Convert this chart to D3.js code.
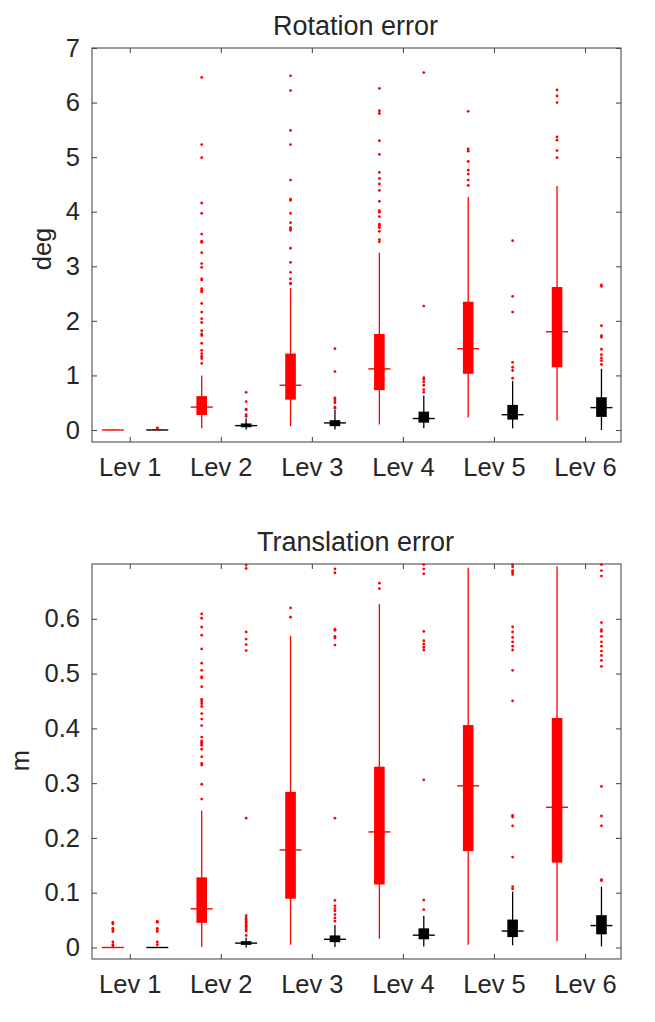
<!DOCTYPE html>
<html>
<head>
<meta charset="utf-8">
<script src="https://cdn.jsdelivr.net/npm/d3@7"></script>
<style>
  html, body { margin: 0; padding: 0; background: #ffffff; }
  svg { display: block; }
  text { font-family: "Liberation Sans", Arial, Helvetica, sans-serif; fill: #262626; }
</style>
</head>
<body>
<svg id="chart" width="655" height="1022"></svg>
<script>
// ---------- data ----------
const levels = ["Lev 1", "Lev 2", "Lev 3", "Lev 4", "Lev 5", "Lev 6"];
const levelTickPositions = [1.38, 3.43, 5.48, 7.53, 9.58, 11.63];

const rotTicks = [0, 1, 2, 3, 4, 5, 6, 7];
const transTicks = [0, 0.1, 0.2, 0.3, 0.4, 0.5, 0.6];

// Rotation error (deg) — series A (red)
const rotA_lo  = [0, 0.03, 0.07, 0.10, 0.23, 0.17];
const rotA_q1  = [0, 0.275, 0.556, 0.73, 1.03, 1.15];
const rotA_med = [0, 0.42, 0.82, 1.12, 1.49, 1.80];
const rotA_q3  = [0.005, 0.62, 1.40, 1.76, 2.35, 2.62];
const rotA_hi  = [0.01, 1.00, 2.60, 3.25, 4.27, 4.47];
const rotA_out = [
  [],
  [6.46, 5.23, 4.99, 4.16, 3.97, 3.59, 3.46, 3.44, 3.25, 3.05, 2.98, 2.77, 2.75, 2.59, 2.56, 2.53, 2.32, 2.16, 2.04, 1.97, 1.82, 1.76, 1.73, 1.59, 1.46, 1.40, 1.35, 1.31, 1.22],
  [6.49, 6.22, 5.49, 5.23, 4.58, 4.23, 4.21, 3.97, 3.80, 3.71, 3.69, 3.66, 3.33, 3.07, 2.89, 2.77, 2.69, 2.68],
  [6.26, 5.85, 5.80, 5.30, 5.05, 4.72, 4.61, 4.51, 4.39, 4.19, 4.02, 3.99, 3.91, 3.77, 3.74, 3.71, 3.64, 3.49, 3.45],
  [5.84, 5.15, 5.11, 4.92, 4.76, 4.69, 4.58, 4.48],
  [6.23, 6.12, 6.00, 5.37, 5.31, 5.12, 4.99]
];
// Rotation error (deg) — series B (black)
const rotB_lo  = [0, 0.01, 0.01, 0.03, 0.03, 0.0];
const rotB_q1  = [0, 0.05, 0.07, 0.135, 0.19, 0.24];
const rotB_med = [0, 0.08, 0.13, 0.21, 0.28, 0.41];
const rotB_q3  = [0.005, 0.12, 0.18, 0.336, 0.46, 0.60];
const rotB_hi  = [0.01, 0.21, 0.37, 0.63, 0.90, 1.12];
const rotB_out = [
  [0.02, 0.03, 0.04],
  [0.69, 0.52, 0.38, 0.37, 0.28, 0.25],
  [1.49, 1.07, 0.59, 0.57, 0.53, 0.50, 0.42, 0.40],
  [6.55, 2.27, 0.96, 0.93, 0.88, 0.82, 0.74, 0.69],
  [3.47, 2.45, 2.16, 1.24, 1.15, 1.09, 0.95],
  [2.66, 2.63, 1.91, 1.73, 1.70, 1.48, 1.38, 1.32, 1.27, 1.20]
];

// Translation error (m) — series A (red)
const trA_lo  = [0, 0.001, 0.005, 0.016, 0.005, 0.0115];
const trA_q1  = [0, 0.045, 0.089, 0.115, 0.176, 0.155];
const trA_med = [0, 0.0706, 0.178, 0.211, 0.295, 0.256];
const trA_q3  = [0.0005, 0.128, 0.284, 0.330, 0.406, 0.419];
const trA_hi  = [0.001, 0.25, 0.569, 0.627, 0.693, 0.696];
const trA_out = [
  [0.046, 0.043, 0.035, 0.032, 0.029, 0.010, 0.005, 0.003],
  [0.609, 0.601, 0.585, 0.570, 0.545, 0.519, 0.506, 0.494, 0.492, 0.476, 0.453, 0.449, 0.445, 0.440, 0.427, 0.417, 0.405, 0.384, 0.377, 0.374, 0.372, 0.369, 0.362, 0.348, 0.336, 0.333, 0.298, 0.271],
  [0.620, 0.603],
  [0.665, 0.655],
  [],
  []
];
// Translation error (m) — series B (black)
const trB_lo  = [0, 0, 0.001, 0.002, 0.004, 0.002];
const trB_q1  = [0, 0.0048, 0.0097, 0.015, 0.019, 0.024];
const trB_med = [0, 0.008, 0.015, 0.0225, 0.030, 0.040];
const trB_q3  = [0.0005, 0.0116, 0.022, 0.035, 0.051, 0.059];
const trB_hi  = [0.001, 0.018, 0.041, 0.058, 0.102, 0.111];
const trB_out = [
  [0.048, 0.046, 0.035, 0.032, 0.029, 0.010, 0.005],
  [0.698, 0.692, 0.576, 0.563, 0.553, 0.542, 0.236, 0.058, 0.054, 0.051, 0.048, 0.045, 0.042, 0.039, 0.036, 0.033, 0.030, 0.022],
  [0.691, 0.684, 0.581, 0.579, 0.568, 0.565, 0.552, 0.236, 0.086, 0.076, 0.071, 0.067, 0.060, 0.054, 0.048],
  [0.699, 0.691, 0.682, 0.577, 0.560, 0.554, 0.548, 0.543, 0.306, 0.0865, 0.069],
  [0.699, 0.695, 0.688, 0.685, 0.681, 0.585, 0.576, 0.566, 0.558, 0.550, 0.543, 0.506, 0.450, 0.241, 0.238, 0.222, 0.165, 0.111, 0.107],
  [0.699, 0.688, 0.678, 0.593, 0.580, 0.577, 0.568, 0.558, 0.550, 0.541, 0.533, 0.524, 0.513, 0.294, 0.240, 0.222, 0.124, 0.122]
];

// ---------- drawing ----------
const svg = d3.select("#chart");
const AXIS_COLOR = "#4d4d4d";
const TEXT_COLOR = "#262626";
const FONT = 25.5;

function buildBoxes(lo, q1, med, q3, hi, out, seriesIndex, color) {
  return levels.map((lev, i) => ({
    pos: 2 * i + 1 + seriesIndex,
    lo: lo[i], q1: q1[i], med: med[i], q3: q3[i], hi: hi[i], out: out[i], color
  }));
}

function drawPanel(cfg) {
  const g = svg.append("g");
  const x = d3.scaleLinear().domain([0.53, 12.44]).range([cfg.left, cfg.right]);
  const y = d3.scaleLinear().domain(cfg.yDomain).range([cfg.bottom, cfg.top]);

  // frame
  g.append("rect")
    .attr("x", cfg.left).attr("y", cfg.top)
    .attr("width", cfg.right - cfg.left).attr("height", cfg.bottom - cfg.top)
    .attr("fill", "none").attr("stroke", AXIS_COLOR).attr("stroke-width", 1.1);

  const tickLen = 5;
  const yAxisL = d3.axisLeft(y).tickValues(cfg.yTicks).tickSize(-tickLen).tickPadding(12)
    .tickFormat(cfg.yFormat);
  const gyl = g.append("g").attr("transform", `translate(${cfg.left},0)`).call(yAxisL);
  const yAxisR = d3.axisRight(y).tickValues(cfg.yTicks).tickSize(-tickLen).tickFormat("");
  const gyr = g.append("g").attr("transform", `translate(${cfg.right},0)`).call(yAxisR);
  const xAxisB = d3.axisBottom(x).tickValues(levelTickPositions).tickSize(-tickLen).tickPadding(16)
    .tickFormat((d, i) => levels[i]);
  const gxb = g.append("g").attr("transform", `translate(0,${cfg.bottom})`).call(xAxisB);
  const xAxisT = d3.axisTop(x).tickValues(levelTickPositions).tickSize(-tickLen).tickFormat("");
  const gxt = g.append("g").attr("transform", `translate(0,${cfg.top})`).call(xAxisT);

  [gyl, gyr, gxb, gxt].forEach(a => {
    a.select(".domain").remove();
    a.selectAll(".tick line").attr("stroke", AXIS_COLOR).attr("stroke-width", 1.1);
    a.selectAll(".tick text").attr("fill", TEXT_COLOR)
      .style("font-family", '"Liberation Sans", Arial, Helvetica, sans-serif')
      .style("font-size", FONT + "px");
  });
  gxb.selectAll(".tick text").attr("dy", "0.71em");

  // title
  g.append("text")
    .attr("x", (cfg.left + cfg.right) / 2 - 1)
    .attr("y", cfg.top - 13)
    .attr("text-anchor", "middle")
    .style("font-size", "27px")
    .text(cfg.title);

  // y label
  g.append("text")
    .attr("transform", `translate(${cfg.yLabelX},${(cfg.top + cfg.bottom) / 2 + cfg.yLabelDy}) rotate(-90)`)
    .attr("text-anchor", "middle")
    .style("font-size", "25.5px")
    .text(cfg.yLabel);

  const boxes = cfg.boxes;
  const bg = g.append("g");
  boxes.forEach(b => {
    const cx = x(b.pos);
    bg.append("line")
      .attr("x1", cx).attr("x2", cx)
      .attr("y1", y(b.lo)).attr("y2", y(b.hi))
      .attr("stroke", b.color).attr("stroke-width", 1.3);
    const yTop = y(b.q3), yBot = y(b.q1);
    bg.append("rect")
      .attr("x", cx - 5.3).attr("width", 10.6)
      .attr("y", yTop).attr("height", Math.max(0.01, yBot - yTop))
      .attr("fill", b.color);
    bg.append("line")
      .attr("x1", cx - 11).attr("x2", cx + 11)
      .attr("y1", y(b.med)).attr("y2", y(b.med))
      .attr("stroke", b.color).attr("stroke-width", 1.4);
    bg.selectAll(null).data(b.out).enter().append("circle")
      .attr("cx", cx).attr("cy", d => y(d)).attr("r", 1.4)
      .attr("fill", "#ff0000");
  });
}

const rotBoxes = buildBoxes(rotA_lo, rotA_q1, rotA_med, rotA_q3, rotA_hi, rotA_out, 0, "#ff0000")
  .concat(buildBoxes(rotB_lo, rotB_q1, rotB_med, rotB_q3, rotB_hi, rotB_out, 1, "#000000"));
const trBoxes = buildBoxes(trA_lo, trA_q1, trA_med, trA_q3, trA_hi, trA_out, 0, "#ff0000")
  .concat(buildBoxes(trB_lo, trB_q1, trB_med, trB_q3, trB_hi, trB_out, 1, "#000000"));

drawPanel({
  left: 92, right: 621, top: 48, bottom: 442,
  yDomain: [-0.22, 7], yTicks: rotTicks, yFormat: d3.format("d"),
  title: "Rotation error", yLabel: "deg", yLabelX: 51, yLabelDy: 4,
  boxes: rotBoxes
});
drawPanel({
  left: 92, right: 621, top: 564, bottom: 959,
  yDomain: [-0.021, 0.7], yTicks: transTicks, yFormat: d => d === 0 ? "0" : d3.format(".1f")(d),
  title: "Translation error", yLabel: "m", yLabelX: 29, yLabelDy: -1,
  boxes: trBoxes
});
</script>
</body>
</html>
